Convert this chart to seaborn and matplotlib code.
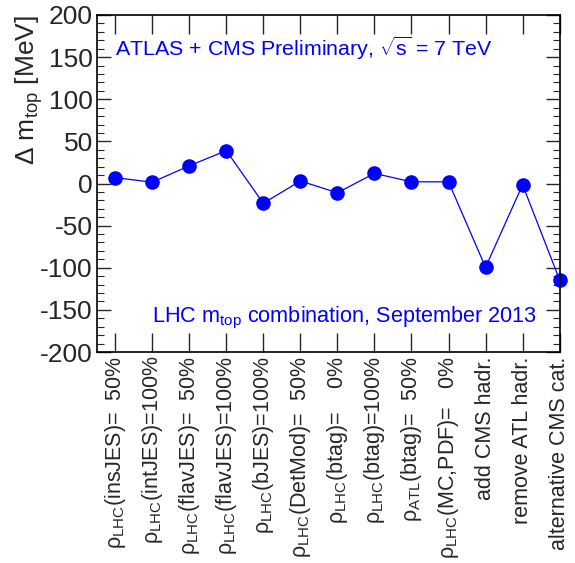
import matplotlib
matplotlib.use("Agg")
import matplotlib.pyplot as plt
import seaborn as sns
import numpy as np
from matplotlib.ticker import MultipleLocator

labels = [
    r"ρ$_{\mathrm{LHC}}$(insJES)=  50%",
    r"ρ$_{\mathrm{LHC}}$(intJES)=100%",
    r"ρ$_{\mathrm{LHC}}$(flavJES)=  50%",
    r"ρ$_{\mathrm{LHC}}$(flavJES)=100%",
    r"ρ$_{\mathrm{LHC}}$(bJES)=100%",
    r"ρ$_{\mathrm{LHC}}$(DetMod)=  50%",
    r"ρ$_{\mathrm{LHC}}$(btag)=    0%",
    r"ρ$_{\mathrm{LHC}}$(btag)=100%",
    r"ρ$_{\mathrm{ATL}}$(btag)=  50%",
    r"ρ$_{\mathrm{LHC}}$(MC,PDF)=   0%",
    "add CMS hadr.",
    "remove ATL hadr.",
    "alternative CMS cat.",
]
delta_mtop = [7, 1.5, 21, 39, -23.5, 3, -11, 12, 2, 2, -99.5, -1.5, -114.5]

sns.set_style("ticks")
plt.rcParams["font.family"] = ["Liberation Sans", "DejaVu Sans"]
plt.rcParams["mathtext.fontset"] = "custom"
plt.rcParams["mathtext.rm"] = "Liberation Sans"
plt.rcParams["mathtext.it"] = "Liberation Sans:italic"
plt.rcParams["mathtext.bf"] = "Liberation Sans:bold"
plt.rcParams["axes.unicode_minus"] = False

fig = plt.figure(figsize=(5.75, 5.63), dpi=100)
ax = fig.add_axes([97/575, 1-352/563, (560-97)/575, (352-15)/563])

pos = np.arange(len(labels))
sns.lineplot(x=pos, y=delta_mtop, ax=ax, color="#0000ff", marker="o",
             markersize=10.5, markeredgewidth=0, linewidth=0.9, clip_on=False)

ax.set_xlim(-0.49, 12.01)
ax.set_ylim(-200, 200)
ax.set_xticks(pos)
ax.set_xticklabels(labels, rotation=90, fontsize=15.5, ha="center", va="top")
ax.yaxis.set_major_locator(MultipleLocator(50))
ax.yaxis.set_minor_locator(MultipleLocator(10))
ax.tick_params(axis="y", which="major", direction="in", length=10, width=1,
               left=True, right=True, labelsize=19, pad=3)
ax.tick_params(axis="y", which="minor", direction="in", length=5, width=0.8,
               left=True, right=True)
ax.tick_params(axis="x", which="major", direction="in", length=14, width=1,
               top=True, bottom=True, pad=3)
for s in ax.spines.values():
    s.set_linewidth(1.2)
    s.set_color("black")

ax.set_ylabel(r"Δ m$_{\mathrm{top}}$ [MeV]", fontsize=19, loc="top")
ax.yaxis.set_label_coords((45 - 97) / 463, 1.0)

fig.text(115/575, 1-48/563, r"ATLAS + CMS Preliminary, $\sqrt{\mathrm{s}}$ = 7 TeV",
         color="#0000ff", fontsize=15.4, va="center", ha="left")
fig.text(152/575, 1-318/563, r"LHC m$_{\mathrm{top}}$ combination, September 2013",
         color="#0000ff", fontsize=15.6, va="center", ha="left")

fig.savefig("out.png", dpi=100)
